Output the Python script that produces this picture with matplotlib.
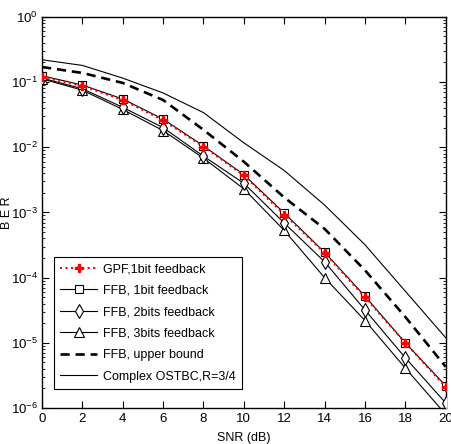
import matplotlib
matplotlib.use("Agg")
import matplotlib.pyplot as plt
from matplotlib.ticker import FixedLocator, FixedFormatter, LogLocator, NullFormatter

plt.rcParams['font.family'] = ['Liberation Sans', 'DejaVu Sans']
plt.rcParams['mathtext.fontset'] = 'custom'
plt.rcParams['mathtext.rm'] = 'Liberation Sans'

snr = [0, 2, 4, 6, 8, 10, 12, 14, 16, 18, 20]
gpf_1bit = [0.12, 0.087, 0.053, 0.026, 0.0102, 0.0037, 9.3e-4, 2.4e-4, 5.0e-5, 1.0e-5, 2.1e-6]
ffb_1bit = [0.125, 0.090, 0.055, 0.027, 0.0105, 0.0038, 9.8e-4, 2.45e-4, 5.2e-5, 1.0e-5, 2.2e-6]
ffb_2bits = [0.115, 0.079, 0.041, 0.020, 0.0073, 0.0028, 6.9e-4, 1.75e-4, 3.2e-5, 5.9e-6, 1.2e-6]
ffb_3bits = [0.112, 0.075, 0.038, 0.018, 0.0068, 0.0023, 5.3e-4, 1.0e-4, 2.2e-5, 4.1e-6, 8.0e-7]
upper_bound = [0.17, 0.138, 0.097, 0.053, 0.0185, 0.0060, 1.7e-3, 5.6e-4, 1.3e-4, 2.5e-5, 4.3e-6]
ostbc = [0.22, 0.18, 0.115, 0.068, 0.034, 0.0117, 4.4e-3, 1.3e-3, 3.2e-4, 6.2e-5, 1.2e-5]

labels = ['GPF,1bit feedback', 'FFB, 1bit feedback', 'FFB, 2bits feedback',
          'FFB, 3bits feedback', 'FFB, upper bound', 'Complex OSTBC,R=3/4']

xticks = [0, 2, 4, 6, 8, 10, 12, 14, 16, 18, 20]
yticks = [1e-6, 1e-5, 1e-4, 1e-3, 1e-2, 1e-1, 1e0]
ytick_labels = [r'$\mathregular{10^{-6}}$', r'$\mathregular{10^{-5}}$', r'$\mathregular{10^{-4}}$',
                r'$\mathregular{10^{-3}}$', r'$\mathregular{10^{-2}}$', r'$\mathregular{10^{-1}}$',
                r'$\mathregular{10^{0}}$']

fig = plt.figure(figsize=(4.52, 4.44), dpi=100)
ax = fig.add_axes([0.093, 0.081, 0.893, 0.881])

ax.semilogy(snr, ostbc, '-', color='black', lw=0.8, label=labels[5], zorder=2)
ax.semilogy(snr, upper_bound, '--', color='black', lw=1.9, dashes=(3.5, 2.2), label=labels[4], zorder=2)
ax.semilogy(snr, ffb_3bits, '-', color='black', lw=0.8, marker='^', ms=6.5,
            mfc='white', mec='black', mew=0.8, label=labels[3], zorder=3)
ax.semilogy(snr, ffb_2bits, '-', color='black', lw=0.8, marker='d', ms=7,
            mfc='white', mec='black', mew=0.8, label=labels[2], zorder=3)
ax.semilogy(snr, ffb_1bit, '-', color='black', lw=0.8, marker='s', ms=6,
            mfc='white', mec='black', mew=0.8, label=labels[1], zorder=3)
ax.semilogy(snr, gpf_1bit, ':', color='red', lw=1.5, marker='P', ms=5.5,
            mfc='red', mec='red', label=labels[0], zorder=4)

ax.set_xlim(0, 20)
ax.set_ylim(1e-6, 1)
ax.xaxis.set_major_locator(FixedLocator(xticks))
ax.set_xticklabels([str(v) for v in xticks])
ax.yaxis.set_major_locator(FixedLocator(yticks))
ax.yaxis.set_major_formatter(FixedFormatter(ytick_labels))
ax.yaxis.set_minor_locator(LogLocator(base=10, subs=range(2, 10), numticks=20))
ax.yaxis.set_minor_formatter(NullFormatter())

ax.tick_params(which='both', direction='in', top=True, right=True, labelsize=9.5)
ax.tick_params(which='major', length=5, width=0.8)
ax.tick_params(which='minor', length=2.5, width=0.6)
ax.tick_params(axis='y', pad=3)
for s in ax.spines.values():
    s.set_linewidth(1.0)

ax.set_xlabel('SNR (dB)', fontsize=9, labelpad=5)
ax.set_ylabel('B E R', fontsize=9)
ax.yaxis.set_label_coords(-0.072, 0.5)

handles, labs = ax.get_legend_handles_labels()
order = [labs.index(l) for l in labels]
leg = ax.legend([handles[i] for i in order], [labs[i] for i in order],
                loc='lower left', bbox_to_anchor=(0.03, 0.049), borderaxespad=0,
                fontsize=9, frameon=True, fancybox=False, edgecolor='black', framealpha=1,
                handlelength=2.9, borderpad=0.5, labelspacing=0.76, handletextpad=0.5)
leg.get_frame().set_linewidth(0.8)

fig.savefig('out.png', dpi=100)
